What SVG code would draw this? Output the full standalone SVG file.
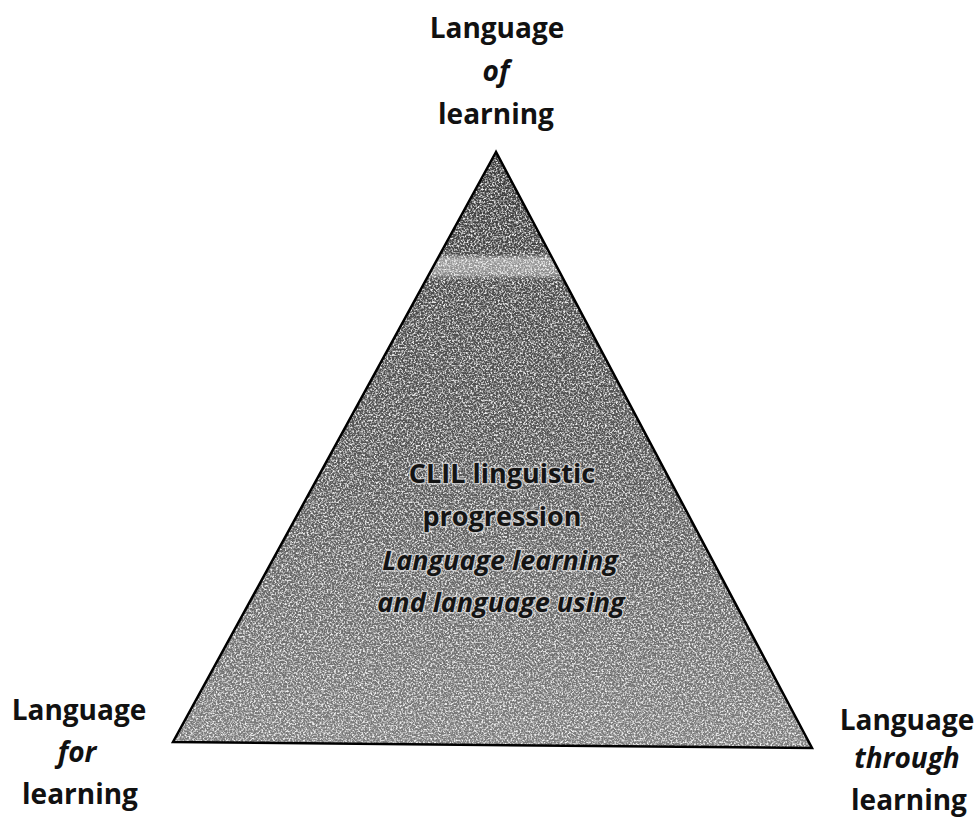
<svg xmlns="http://www.w3.org/2000/svg" width="977" height="823" viewBox="0 0 977 823">
<style>
.lbl{font-family:"Open Sans","DejaVu Sans",sans-serif;font-weight:bold;font-size:28px;fill:#111;text-anchor:middle}
.it{font-style:italic}
.ctr{font-family:"Open Sans","DejaVu Sans",sans-serif;font-weight:bold;font-size:27px;fill:#141414;text-anchor:middle;stroke:#e0e0e0;stroke-width:3px;stroke-opacity:0.7;paint-order:stroke;stroke-linejoin:round}
</style>
<defs>
<linearGradient id="tg" x1="0" y1="0" x2="0" y2="1">
<stop offset="0" stop-color="#3a3a3a"/>
<stop offset="0.17" stop-color="#464646"/>
<stop offset="0.18" stop-color="#9a9a9a"/>
<stop offset="0.205" stop-color="#8e8e8e"/>
<stop offset="0.215" stop-color="#4a4a4a"/>
<stop offset="0.5" stop-color="#555"/>
<stop offset="1" stop-color="#7e7e7e"/>
</linearGradient>
<filter id="grain" x="0" y="0" width="100%" height="100%">
<feTurbulence type="fractalNoise" baseFrequency="0.55" numOctaves="3" seed="7" result="n"/>
<feColorMatrix in="n" type="matrix" values="0 0 0 0 1  0 0 0 0 1  0 0 0 0 1  3 0 0 0 -1.25" result="w"/>
<feComposite in="w" in2="SourceGraphic" operator="in"/>
</filter>
</defs>
<rect width="977" height="823" fill="#fff"/>
<g id="triangle">
<polygon points="496,152 173,742 812,748" fill="url(#tg)"/>
<polygon points="496,152 173,742 812,748" fill="#000" filter="url(#grain)" opacity="0.9"/>
<polygon points="496,152 173,742 812,748" fill="none" stroke="#000" stroke-width="2.5" stroke-linejoin="miter"/>
<text class="ctr" x="502" y="483">CLIL linguistic</text>
<text class="ctr" x="502" y="526">progression</text>
<text class="ctr it" x="500" y="570">Language learning</text>
<text class="ctr it" x="501" y="612">and language using</text>
</g>
<g id="top-label">
<text class="lbl" x="497" y="38">Language</text>
<text class="lbl it" x="496" y="81">of</text>
<text class="lbl" x="496" y="124">learning</text>
</g>
<g id="left-label">
<text class="lbl" x="79" y="720">Language</text>
<text class="lbl it" x="77" y="762">for</text>
<text class="lbl" x="80" y="804">learning</text>
</g>
<g id="right-label">
<text class="lbl" x="907" y="730">Language</text>
<text class="lbl it" x="907" y="768">through</text>
<text class="lbl" x="909" y="810">learning</text>
</g>
</svg>
